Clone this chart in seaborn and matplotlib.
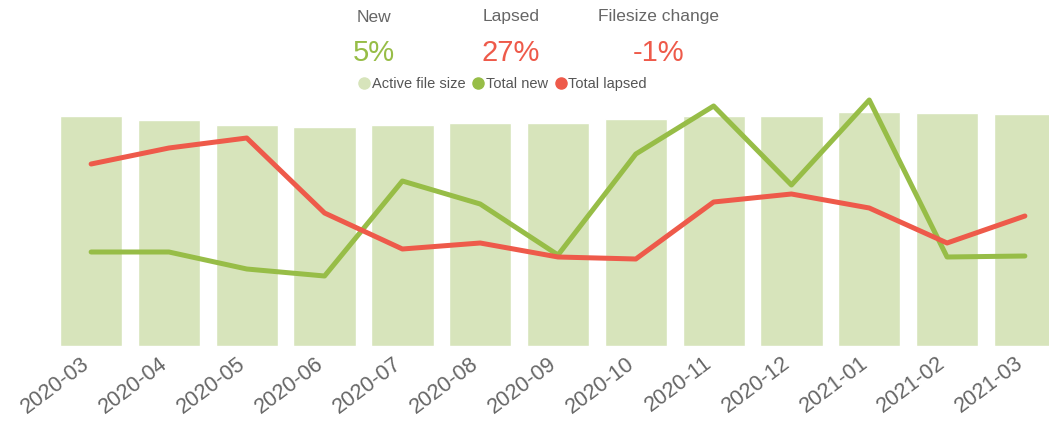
import numpy as np
import pandas as pd
import matplotlib
matplotlib.use("Agg")
import matplotlib.pyplot as plt
import matplotlib.transforms as mtransforms
from matplotlib.lines import Line2D
import seaborn as sns

months = ["2020-03", "2020-04", "2020-05", "2020-06", "2020-07", "2020-08", "2020-09",
          "2020-10", "2020-11", "2020-12", "2021-01", "2021-02", "2021-03"]
active_file_size = [2300, 2260, 2210, 2190, 2210, 2230, 2230, 2270, 2300, 2300, 2340, 2330, 2320]
total_new = [94, 94, 77, 70, 165, 142, 91, 192, 240, 161, 246, 89, 90]
total_lapsed = [182, 198, 208, 133, 97, 103, 89, 87, 144, 152, 138, 103, 130]

kpi_labels = ["New", "Lapsed", "Filesize change"]
kpi_values = ["5%", "27%", "-1%"]

bar_col = "#d7e4bb"
green = "#97bd47"
red = "#ee5a4a"
grey = "#666666"

sns.set_style("white")
plt.rcParams["font.family"] = ["Liberation Sans", "DejaVu Sans"]

df = pd.DataFrame({"month": months, "size": active_file_size,
                   "new": total_new, "lapsed": total_lapsed})
df["pos"] = np.arange(len(df))

fig = plt.figure(figsize=(10.49, 4.21), dpi=100)
ax = fig.add_axes([60 / 1049, 75 / 421, 989 / 1049, 251 / 421])

sns.barplot(data=df, x="month", y="size", color=bar_col, saturation=1, width=0.8, ax=ax)
ax.set_ylim(0, 2510)

ax2 = ax.twinx()
sns.lineplot(data=df, x="pos", y="new", color=green, linewidth=3.6, ax=ax2)
sns.lineplot(data=df, x="pos", y="lapsed", color=red, linewidth=3.6, ax=ax2)
ax2.set_ylim(0, 251)

for a in (ax, ax2):
    a.set_xlim(-0.4, 12.31)
    a.set_xlabel("")
    a.set_ylabel("")
    a.set_yticks([])
    for s in a.spines.values():
        s.set_visible(False)

ax.set_xticks(range(len(months)))
ax.set_xticklabels(months, rotation=37, ha="right", rotation_mode="anchor",
                   fontsize=15.5, color=grey)
ax.tick_params(axis="x", length=0, pad=5)
shift = mtransforms.ScaledTranslation(-10 / 100, 0, fig.dpi_scale_trans)
for lbl in ax.get_xticklabels():
    lbl.set_transform(lbl.get_transform() + shift)

# KPI header
kpi_x = [374, 511, 659]
kpi_colors = [green, red, red]
for lab, val, x, c in zip(kpi_labels, kpi_values, kpi_x, kpi_colors):
    fig.text(x / 1049, 1 - 17 / 421, lab, ha="center", va="center", fontsize=12.5, color=grey)
    fig.text(x / 1049, 1 - 53 / 421, val, ha="center", va="center", fontsize=21, color=c)

handles = [Line2D([], [], marker="o", linestyle="", markersize=8, color=bar_col),
           Line2D([], [], marker="o", linestyle="", markersize=8, color=green),
           Line2D([], [], marker="o", linestyle="", markersize=8, color=red)]
fig.legend(handles, ["Active file size", "Total new", "Total lapsed"],
           loc="center", bbox_to_anchor=(502 / 1049, 1 - 84 / 421), ncol=3,
           frameon=False, fontsize=10.5, handletextpad=0.0, columnspacing=0.4,
           handlelength=1.0, labelcolor="#555555")

fig.savefig("out.png", dpi=100)
